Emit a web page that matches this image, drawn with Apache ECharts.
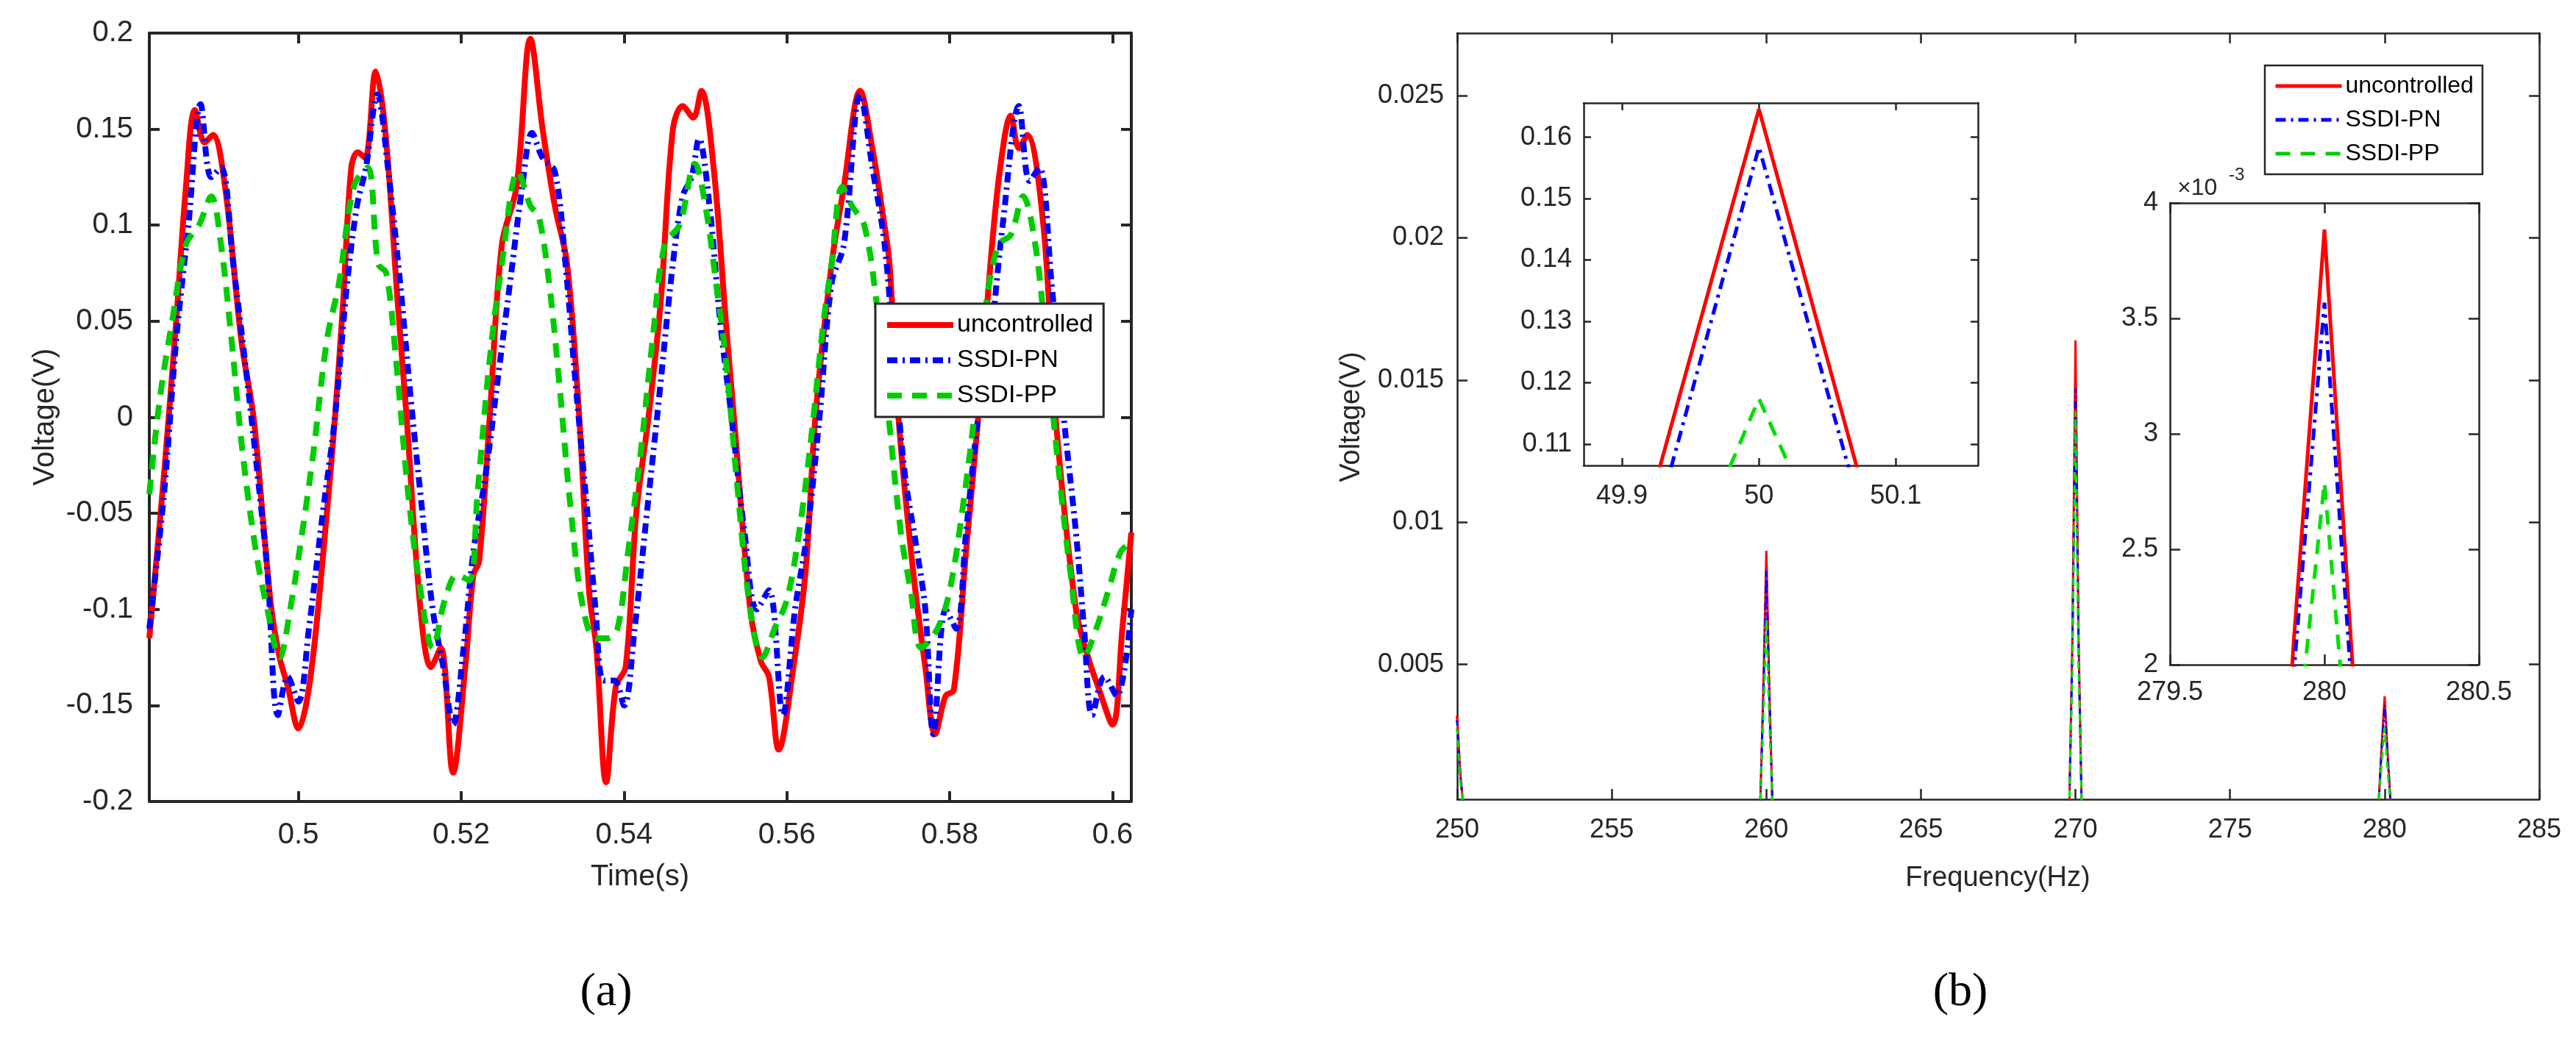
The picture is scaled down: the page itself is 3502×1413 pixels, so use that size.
<!DOCTYPE html>
<html><head><meta charset="utf-8">
<script src="https://cdn.jsdelivr.net/npm/echarts@6/dist/echarts.min.js"></script>
<style>html,body{margin:0;padding:0;background:#fff}#c{width:3502px;height:1413px}</style>
</head><body><div id="c"></div>
<script>
// ---- Panel (a): time-domain voltage ----
const timeUncontrolled = [[0.4817,-0.115],[0.4835,-0.03],[0.4850,0.05],[0.4862,0.12],[0.4873,0.160],[0.4885,0.143],[0.4895,0.147],[0.4910,0.12],[0.4930,0.04],[0.4945,0.0],[0.4958,-0.06],[0.4967,-0.10],[0.4977,-0.125],[0.4987,-0.14],[0.5000,-0.162],[0.5015,-0.135],[0.5035,-0.05],[0.5045,0.0],[0.5055,0.06],[0.5065,0.13],[0.5073,0.138],[0.5082,0.135],[0.5095,0.180],[0.5107,0.148],[0.5122,0.06],[0.5133,0.0],[0.5150,-0.10],[0.5163,-0.13],[0.5175,-0.12],[0.5190,-0.185],[0.5205,-0.13],[0.5215,-0.082],[0.5222,-0.075],[0.5235,0.0],[0.5250,0.09],[0.5268,0.12],[0.5285,0.197],[0.5300,0.15],[0.5315,0.11],[0.5330,0.08],[0.5345,0.0],[0.5357,-0.09],[0.5366,-0.12],[0.5378,-0.190],[0.5390,-0.14],[0.5402,-0.13],[0.5415,-0.05],[0.5430,0.0],[0.5445,0.06],[0.5460,0.15],[0.5472,0.162],[0.5485,0.156],[0.5495,0.170],[0.5510,0.13],[0.5525,0.05],[0.5535,0.0],[0.5555,-0.10],[0.5568,-0.127],[0.5578,-0.135],[0.5590,-0.173],[0.5608,-0.13],[0.5623,-0.08],[0.5635,0.0],[0.5655,0.08],[0.5670,0.12],[0.5690,0.170],[0.5705,0.14],[0.5718,0.105],[0.5726,0.08],[0.5737,0.0],[0.5755,-0.08],[0.5770,-0.13],[0.5782,-0.165],[0.5795,-0.145],[0.5805,-0.142],[0.5820,-0.07],[0.5835,0.0],[0.5850,0.08],[0.5862,0.13],[0.5875,0.157],[0.5885,0.140],[0.5895,0.147],[0.5915,0.10],[0.5930,0.0],[0.5955,-0.10],[0.5970,-0.125],[0.5982,-0.14],[0.6000,-0.160],[0.6012,-0.11],[0.6023,-0.06]];
const timeSSDIPN = [[0.4817,-0.11],[0.4835,-0.04],[0.4850,0.04],[0.4865,0.10],[0.4880,0.163],[0.4893,0.125],[0.4905,0.130],[0.4920,0.08],[0.4937,0.02],[0.4950,-0.03],[0.4962,-0.08],[0.4975,-0.155],[0.4987,-0.135],[0.5000,-0.148],[0.5013,-0.11],[0.5030,-0.05],[0.5045,0.0],[0.5060,0.07],[0.5072,0.11],[0.5083,0.13],[0.5097,0.168],[0.5110,0.13],[0.5125,0.07],[0.5138,0.01],[0.5150,-0.04],[0.5165,-0.10],[0.5178,-0.13],[0.5190,-0.160],[0.5203,-0.12],[0.5215,-0.07],[0.5230,-0.03],[0.5245,0.02],[0.5260,0.07],[0.5275,0.12],[0.5287,0.148],[0.5300,0.135],[0.5315,0.128],[0.5328,0.08],[0.5340,0.02],[0.5355,-0.05],[0.5365,-0.10],[0.5375,-0.137],[0.5388,-0.137],[0.5400,-0.150],[0.5413,-0.11],[0.5428,-0.05],[0.5443,0.01],[0.5460,0.08],[0.5472,0.115],[0.5483,0.125],[0.5492,0.145],[0.5505,0.11],[0.5518,0.05],[0.5532,0.0],[0.5548,-0.06],[0.5563,-0.10],[0.5578,-0.09],[0.5595,-0.155],[0.5610,-0.10],[0.5625,-0.06],[0.5640,0.0],[0.5655,0.07],[0.5670,0.09],[0.5690,0.168],[0.5705,0.13],[0.5720,0.09],[0.5732,0.03],[0.5745,-0.03],[0.5760,-0.07],[0.5770,-0.10],[0.5780,-0.165],[0.5795,-0.10],[0.5808,-0.11],[0.5820,-0.06],[0.5835,0.0],[0.5850,0.04],[0.5865,0.10],[0.5885,0.162],[0.5898,0.123],[0.5910,0.130],[0.5925,0.07],[0.5940,0.0],[0.5955,-0.06],[0.5965,-0.11],[0.5975,-0.155],[0.5990,-0.135],[0.6005,-0.145],[0.6023,-0.10]];
const timeSSDIPP = [[0.4817,-0.04],[0.4830,0.01],[0.4845,0.05],[0.4862,0.09],[0.4878,0.10],[0.4893,0.115],[0.4905,0.09],[0.4918,0.04],[0.4932,-0.02],[0.4948,-0.07],[0.4962,-0.10],[0.4977,-0.125],[0.4990,-0.10],[0.5003,-0.065],[0.5018,-0.02],[0.5035,0.04],[0.5050,0.07],[0.5068,0.12],[0.5085,0.130],[0.5098,0.08],[0.5108,0.075],[0.5120,0.03],[0.5135,-0.04],[0.5150,-0.09],[0.5165,-0.120],[0.5180,-0.095],[0.5195,-0.082],[0.5210,-0.085],[0.5220,-0.04],[0.5235,0.03],[0.5250,0.08],[0.5270,0.128],[0.5285,0.11],[0.5295,0.105],[0.5308,0.07],[0.5320,0.02],[0.5335,-0.05],[0.5350,-0.10],[0.5365,-0.115],[0.5380,-0.115],[0.5392,-0.11],[0.5405,-0.07],[0.5420,-0.02],[0.5435,0.04],[0.5450,0.09],[0.5468,0.10],[0.5487,0.132],[0.5500,0.11],[0.5513,0.07],[0.5525,0.03],[0.5540,-0.04],[0.5555,-0.10],[0.5570,-0.125],[0.5585,-0.11],[0.5600,-0.095],[0.5615,-0.06],[0.5630,-0.01],[0.5645,0.05],[0.5655,0.08],[0.5668,0.120],[0.5680,0.11],[0.5695,0.10],[0.5710,0.06],[0.5725,0.0],[0.5740,-0.06],[0.5752,-0.09],[0.5765,-0.120],[0.5785,-0.110],[0.5800,-0.09],[0.5815,-0.05],[0.5830,0.0],[0.5845,0.06],[0.5860,0.09],[0.5875,0.095],[0.5890,0.115],[0.5905,0.09],[0.5918,0.04],[0.5932,-0.02],[0.5948,-0.08],[0.5965,-0.125],[0.5980,-0.11],[0.5995,-0.09],[0.6010,-0.07],[0.6023,-0.065]];
const timeTicks = [0.5,0.52,0.54,0.56,0.58,0.6];

// ---- Panel (b): spectrum ----
const freqUncontrolled = [[249.9,0.0031],[250,0.00316],[250.1,0.0012],[250.2,0],[259.8,0],[259.9,0.004],[260,0.0090],[260.1,0.004],[260.2,0],[269.8,0],[269.9,0.006],[270,0.0164],[270.1,0.006],[270.2,0],[279.8,0],[279.9,0.00209],[280,0.00388],[280.1,0.00181],[280.2,0]];
const freqSSDIPN = [[249.9,0.0030],[250,0.0030],[250.1,0.0011],[250.2,0],[259.8,0],[259.9,0.0037],[260,0.0083],[260.1,0.0037],[260.2,0],[269.8,0],[269.9,0.0055],[270,0.0147],[270.1,0.0055],[270.2,0],[279.8,0],[279.9,0.00195],[280,0.00357],[280.1,0.00168],[280.2,0]];
const freqSSDIPP = [[249.9,0.0027],[250,0.0027],[250.1,0.0009],[250.2,0],[259.8,0],[259.9,0.003],[260,0.0066],[260.1,0.003],[260.2,0],[269.8,0],[269.9,0.005],[270,0.0139],[270.1,0.005],[270.2,0],[279.8,0],[279.9,0.00152],[280,0.00279],[280.1,0.00124],[280.2,0]];
const inset50Uncontrolled = [[49.9,0.084],[50,0.1646],[50.1,0.083]];
const inset50SSDIPN = [[49.9,0.077],[50,0.1584],[50.1,0.0786]];
const inset50SSDIPP = [[49.9,0.065],[50,0.1174],[50.1,0.068]];
const inset280Uncontrolled = [[279.8,0],[279.9,2.09],[280,3.885],[280.1,1.81],[280.2,0]];
const inset280SSDIPN = [[279.8,0],[279.9,1.951],[280,3.568],[280.1,1.679],[280.2,0]];
const inset280SSDIPP = [[279.8,0],[279.9,1.516],[280,2.79],[280.1,1.24],[280.2,0]];
const seriesNames = ['uncontrolled','SSDI-PN','SSDI-PP'];

const RED='#ff0000', BLUE='#0000ff', GREEN='#00cc00', GREEN2='#00e000';
const FONT='Liberation Sans, Arial, sans-serif';
const chart = echarts.init(document.getElementById('c'));

const grids = [
  {left:203, top:45, width:1335, height:1045},
  {left:1981, top:45, width:1471, height:1042},
  {left:2153, top:140, width:536, height:493},
  {left:2950, top:276, width:420, height:628}
];
const xAxes=[], yAxes=[];
function axisPair(gi, xo, yo){
  const w = gi==0?4:2.5;
  const base = {gridIndex:gi, type:'value', splitLine:{show:false},
    axisLine:{show:true, onZero:false, lineStyle:{color:'#262626', width:w}},
    axisTick:{inside:true, length:14, lineStyle:{color:'#262626', width:w}}};
  const lab = {color:'#262626', fontFamily:FONT, fontSize:36};
  xAxes.push(Object.assign({}, base, xo, {position:'bottom', axisLabel:Object.assign({}, lab, xo.axisLabel||{})}));
  xAxes.push(Object.assign({}, base, xo, {position:'top', axisLabel:{show:false}}));
  yAxes.push(Object.assign({}, base, yo, {position:'left', axisLabel:Object.assign({}, lab, yo.axisLabel||{})}));
  yAxes.push(Object.assign({}, base, yo, {position:'right', axisLabel:{show:false}}));
}
function tk(vals, len, w){ return {inside:true, length:len, customValues:vals, lineStyle:{color:'#262626', width:w}}; }
axisPair(0,{min:0.4817,max:0.6023,axisLabel:{customValues:timeTicks, margin:26, fontSize:40},axisTick:tk(timeTicks,14,4)},
  {min:-0.2,max:0.2,interval:0.05,axisLabel:{fontSize:40,margin:22}});
axisPair(1,{min:250,max:285,interval:5,axisLabel:{margin:24}},
  {min:0.00026,max:0.0272,axisLabel:{customValues:[0.005,0.01,0.015,0.02,0.025],margin:18},axisTick:tk([0.005,0.01,0.015,0.02,0.025],14,2.5)});
axisPair(2,{min:49.872,max:50.16,axisLabel:{customValues:[49.9,50,50.1],margin:24},axisTick:tk([49.9,50,50.1],10,2.5)},
  {min:0.1065,max:0.1656,axisLabel:{customValues:[0.11,0.12,0.13,0.14,0.15,0.16],margin:16},axisTick:tk([0.11,0.12,0.13,0.14,0.15,0.16],10,2.5)});
axisPair(3,{min:279.5,max:280.5,interval:0.5,axisLabel:{margin:20}},
  {min:2,max:4,interval:0.5,axisLabel:{margin:16}});

const dashDot=[14,7,3,7];
function ser(name, data, gi, color, type, width, smooth, z){
  return {name, type:'line', data, xAxisIndex:gi*2, yAxisIndex:gi*2, showSymbol:false, symbol:'none',
    smooth:smooth||false, clip:true, lineStyle:{color, width, type}, itemStyle:{color}, z:z};
}
const series=[
  ser('uncontrolled', timeUncontrolled, 0, RED, 'solid', 8, 0.35, 2),
  ser('SSDI-PN', timeSSDIPN, 0, BLUE, dashDot, 8, 0.35, 3),
  ser('SSDI-PP', timeSSDIPP, 0, GREEN, [20,14], 8, 0.35, 4),
  ser('uncontrolled', freqUncontrolled, 1, RED, 'solid', 3, false, 2),
  ser('SSDI-PN', freqSSDIPN, 1, BLUE, [10,5,2,5], 3, false, 3),
  ser('SSDI-PP', freqSSDIPP, 1, GREEN2, [10,8], 3, false, 4),
  ser('uncontrolled', inset50Uncontrolled, 2, RED, 'solid', 5, false, 2),
  ser('SSDI-PN', inset50SSDIPN, 2, BLUE, [16,8,4,8], 5, false, 3),
  ser('SSDI-PP', inset50SSDIPP, 2, GREEN2, [20,14], 5, false, 4),
  ser('uncontrolled', inset280Uncontrolled, 3, RED, 'solid', 5, false, 2),
  ser('SSDI-PN', inset280SSDIPN, 3, BLUE, [16,8,4,8], 5, false, 3),
  ser('SSDI-PP', inset280SSDIPP, 3, GREEN2, [20,14], 5, false, 4)
];

chart.setOption({
  animation:false, backgroundColor:'#fff',
  grid:grids, xAxis:xAxes, yAxis:yAxes, series,
  legend:[
    {data:seriesNames, left:1190, top:413, orient:'vertical', itemGap:14, itemWidth:90, itemHeight:20,
     padding:[12,14,12,12], borderColor:'#262626', borderWidth:3, backgroundColor:'#fff',
     itemStyle:{opacity:0}, lineStyle:{width:8},
     textStyle:{fontFamily:FONT, fontSize:34, color:'#000'}, selectedMode:false, z:10},
    {data:seriesNames, left:3079, top:89, orient:'vertical', itemGap:14, itemWidth:90, itemHeight:18,
     padding:[12,12,12,12], borderColor:'#262626', borderWidth:2.5, backgroundColor:'#fff',
     itemStyle:{opacity:0}, lineStyle:{width:5},
     textStyle:{fontFamily:FONT, fontSize:32, color:'#000'}, selectedMode:false, z:10}
  ],
  graphic:[
    {type:'text', x:62, y:567, rotation:Math.PI/2, style:{text:'Voltage(V)', font:'40px '+FONT, fill:'#262626', align:'center', verticalAlign:'middle'}},
    {type:'text', x:1838, y:567, rotation:Math.PI/2, style:{text:'Voltage(V)', font:'38px '+FONT, fill:'#262626', align:'center', verticalAlign:'middle'}},
    {type:'text', style:{text:'Time(s)', x:870, y:1193, font:'40px '+FONT, fill:'#262626', align:'center', verticalAlign:'middle'}},
    {type:'text', style:{text:'Frequency(Hz)', x:2716, y:1195, font:'38px '+FONT, fill:'#262626', align:'center', verticalAlign:'middle'}},
    {type:'text', style:{text:'×10', x:2960, y:256, font:'32px '+FONT, fill:'#262626', align:'left', verticalAlign:'middle'}},
    {type:'text', style:{text:'-3', x:3030, y:238, font:'24px '+FONT, fill:'#262626', align:'left', verticalAlign:'middle'}},
    {type:'text', style:{text:'(a)', x:824, y:1350, font:'64px "Liberation Serif", serif', fill:'#000', align:'center', verticalAlign:'middle'}},
    {type:'text', style:{text:'(b)', x:2665, y:1350, font:'64px "Liberation Serif", serif', fill:'#000', align:'center', verticalAlign:'middle'}}
  ]
});
</script></body></html>
